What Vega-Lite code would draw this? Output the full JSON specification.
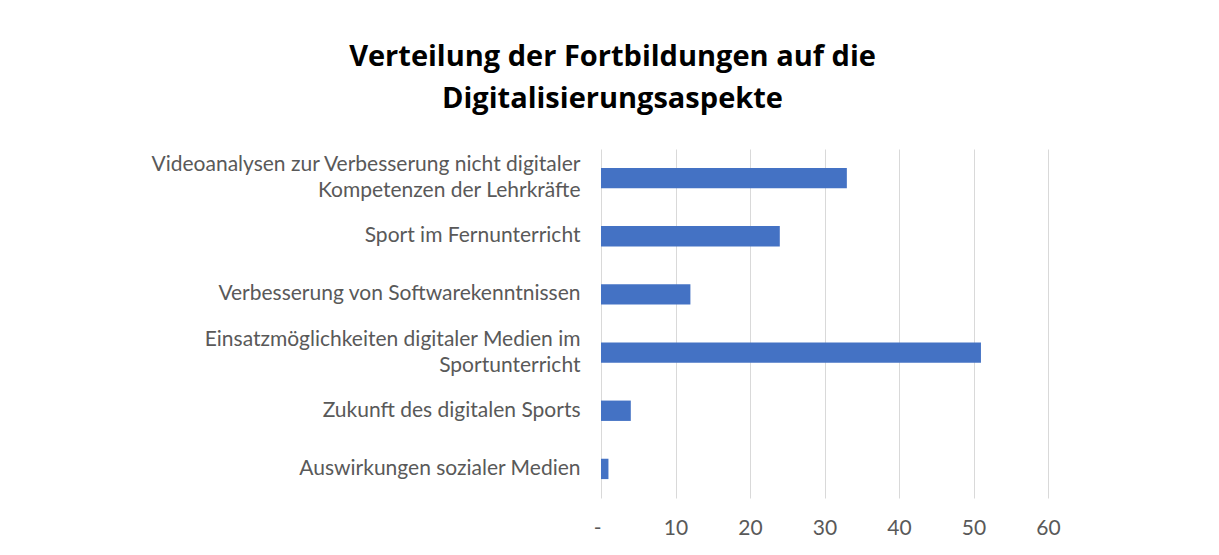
{
  "$schema": "https://vega.github.io/schema/vega-lite/v6.json",
  "autosize": {"type": "none"},
  "width": 447,
  "height": 349,
  "padding": {"left": 601, "top": 149, "right": 171, "bottom": 57},
  "background": "white",
  "title": {
    "text": ["Verteilung der Fortbildungen auf die", "Digitalisierungsaspekte"],
    "font": "Open Sans",
    "fontSize": 29,
    "fontWeight": "bold",
    "color": "#000000",
    "anchor": "middle",
    "frame": "group",
    "dx": -212,
    "offset": 35,
    "lineHeight": 42
  },
  "data": {
    "values": [
      {"aspekt": "Videoanalysen zur Verbesserung nicht digitaler|Kompetenzen der Lehrkräfte", "anzahl": 33},
      {"aspekt": "Sport im Fernunterricht", "anzahl": 24},
      {"aspekt": "Verbesserung von Softwarekenntnissen", "anzahl": 12},
      {"aspekt": "Einsatzmöglichkeiten digitaler Medien im|Sportunterricht", "anzahl": 51},
      {"aspekt": "Zukunft des digitalen Sports", "anzahl": 4},
      {"aspekt": "Auswirkungen sozialer Medien", "anzahl": 1}
    ]
  },
  "mark": {"type": "bar", "color": "#4472C4"},
  "encoding": {
    "y": {
      "field": "aspekt",
      "type": "nominal",
      "sort": null,
      "title": null,
      "scale": {"paddingInner": 0.65, "paddingOuter": 0.325},
      "axis": {
        "labelExpr": "split(datum.value, '|')",
        "labelFont": "Lato",
        "labelFontSize": 21,
        "labelColor": "#595959",
        "labelLineHeight": 26,
        "labelPadding": 21,
        "labelLimit": 500,
        "labelOffset": {"expr": "indexof(datum.value, '|') >= 0 ? -13 : 0"},
        "ticks": false,
        "domain": false,
        "grid": false
      }
    },
    "x": {
      "field": "anzahl",
      "type": "quantitative",
      "title": null,
      "scale": {"domain": [0, 60], "nice": false},
      "axis": {
        "values": [0, 10, 20, 30, 40, 50, 60],
        "labelExpr": "datum.value == 0 ? '-' : datum.label",
        "labelAlign": {"expr": "datum.value == 0 ? 'right' : 'center'"},
        "labelFont": "Lato",
        "labelFontSize": 21,
        "labelColor": "#595959",
        "labelPadding": 19,
        "ticks": false,
        "domain": false,
        "grid": true,
        "gridColor": "#d9d9d9",
        "gridWidth": 1
      }
    }
  },
  "config": {"view": {"stroke": null}}
}
